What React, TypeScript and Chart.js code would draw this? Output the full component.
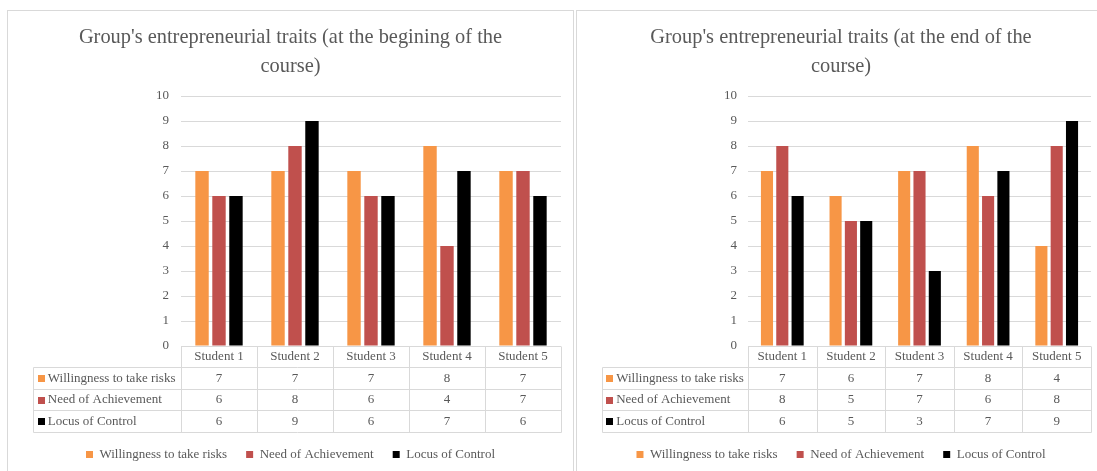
import React, { useEffect, useRef } from 'react';
import { Chart, registerables } from 'chart.js';

Chart.register(...registerables);

// ---------- data ----------
const categories = ['Student 1', 'Student 2', 'Student 3', 'Student 4', 'Student 5'];
const seriesNames = ['Willingness to take risks', 'Need of Achievement', 'Locus of Control'];

const beginRisk = [7, 7, 7, 8, 7];
const beginAchievement = [6, 8, 6, 4, 7];
const beginLocus = [6, 9, 6, 7, 6];

const endRisk = [7, 6, 7, 8, 4];
const endAchievement = [8, 5, 7, 6, 8];
const endLocus = [6, 5, 3, 7, 9];

const yMin = 0;
const yMax = 10;
const yStep = 1;

const titleBegin = ["Group's entrepreneurial traits (at the begining of the", 'course)'];
const titleEnd = ["Group's entrepreneurial traits (at the end of the", 'course)'];

// ---------- styles ----------
const seriesColors = ['#F79646', '#C0504D', '#000000'];
const FONT = "'Liberation Serif', 'Times New Roman', serif";
const TEXT = '#595959';
const LINE = '#d9d9d9';

const dataTablePlugin = {
  id: 'dataTable',
  afterDraw(chart: any, _args: any, opts: any) {
    const { ctx, chartArea } = chart;
    const xs = chart.scales.x;
    const labels: string[] = chart.data.labels;
    const n = labels.length;
    const left = chartArea.left;
    const right = chartArea.right;
    const top = chartArea.bottom;
    const colW = (right - left) / n;
    const headerH = opts.headerHeight;
    const rowH = opts.rowHeight;
    const rows = chart.data.datasets.length;
    const bottom = top + headerH + rows * rowH;
    const tl = opts.tableLeft;
    const snap = (v: number) => Math.round(v) + 0.5;

    ctx.save();
    ctx.strokeStyle = LINE;
    ctx.lineWidth = 1;
    ctx.beginPath();
    for (let i = 0; i <= n; i++) {
      const x = snap(left + i * colW);
      ctx.moveTo(x, snap(top));
      ctx.lineTo(x, snap(bottom));
    }
    ctx.moveTo(snap(tl), snap(top + headerH));
    ctx.lineTo(snap(tl), snap(bottom));
    for (let r = 0; r <= rows; r++) {
      const y = snap(top + headerH + r * rowH);
      ctx.moveTo(snap(tl), y);
      ctx.lineTo(snap(right), y);
    }
    ctx.stroke();

    ctx.font = `13px ${FONT}`;
    ctx.textBaseline = 'middle';
    ctx.textAlign = 'center';
    ctx.fillStyle = TEXT;
    labels.forEach((lab, i) => {
      ctx.fillText(lab, xs.getPixelForValue(i), top + headerH / 2 + 0.5);
    });
    chart.data.datasets.forEach((ds: any, r: number) => {
      const cy = top + headerH + rowH * (r + 0.5) + 0.5;
      ctx.fillStyle = ds.backgroundColor;
      ctx.fillRect(Math.round(tl + 4.5), Math.round(cy - 3.5), 7, 7);
      ctx.fillStyle = TEXT;
      ctx.textAlign = 'left';
      ctx.fillText(ds.label, tl + 14.5, cy);
      ctx.textAlign = 'center';
      ds.data.forEach((v: number, i: number) => {
        ctx.fillText(String(v), xs.getPixelForValue(i), cy);
      });
    });
    ctx.restore();
  },
};

type PanelProps = {
  left: number;
  width: number;
  title: string[];
  series: number[][];
  axisWidth: number;
  rightGap: number;
  tableLeft: number;
  tickPad: number;
};

function Panel({ left, width, title, series, axisWidth, rightGap, tableLeft, tickPad }: PanelProps) {
  const ref = useRef<HTMLCanvasElement>(null);
  const height = 460;

  useEffect(() => {
    if (!ref.current) return;
    const chart = new Chart(ref.current, {
      type: 'bar',
      data: {
        labels: categories,
        datasets: seriesNames.map((name, i) => ({
          label: name,
          data: series[i],
          backgroundColor: seriesColors[i],
          borderWidth: 0,
          categoryPercentage: 0.67,
          barPercentage: 0.79,
        })),
      },
      options: {
        responsive: false,
        animation: false,
        layout: { padding: 0 },
        plugins: {
          title: {
            display: true,
            text: title,
            color: TEXT,
            font: { family: FONT, size: 20.4, weight: 'normal', lineHeight: 29 / 20.4 },
            padding: { top: 12.5, bottom: 14.5 },
          },
          legend: {
            position: 'bottom',
            labels: {
              boxWidth: 7,
              boxHeight: 7,
              padding: 19,
              color: TEXT,
              font: { family: FONT, size: 13 },
            },
          },
          tooltip: { enabled: false },
          // @ts-ignore
          dataTable: { headerHeight: 21, rowHeight: 21.7, tableLeft },
        },
        scales: {
          x: {
            grid: { display: false },
            ticks: { display: false },
            border: { display: false },
            afterFit: (s: any) => {
              s.height = 83;
            },
          },
          y: {
            min: yMin,
            max: yMax,
            ticks: { stepSize: yStep, padding: tickPad, color: TEXT, font: { family: FONT, size: 13 } },
            grid: { color: LINE, drawTicks: false },
            border: { display: false },
            afterFit: (s: any) => {
              s.width = axisWidth;
            },
          },
          gap: {
            position: 'right',
            display: true,
            grid: { display: false },
            ticks: { display: false },
            border: { display: false },
            afterFit: (s: any) => {
              s.width = rightGap;
            },
          },
        },
      } as any,
      plugins: [dataTablePlugin],
    });
    return () => chart.destroy();
  }, []);

  return (
    <div
      style={{
        position: 'absolute',
        left,
        top: 10,
        width,
        height: 480,
        border: `1px solid ${LINE}`,
        background: '#fff',
      }}
    >
      <canvas ref={ref} width={width} height={height} style={{ display: 'block', width, height }} />
    </div>
  );
}

export default function App() {
  return (
    <div
      style={{
        position: 'absolute',
        left: 0,
        top: 0,
        width: 1097,
        height: 471,
        overflow: 'hidden',
        background: '#fff',
      }}
    >
      <Panel
        left={7}
        width={565}
        title={titleBegin}
        series={[beginRisk, beginAchievement, beginLocus]}
        axisWidth={173}
        rightGap={12}
        tableLeft={25.3}
        tickPad={12}
      />
      <Panel
        left={576}
        width={528}
        title={titleEnd}
        series={[endRisk, endAchievement, endLocus]}
        axisWidth={171}
        rightGap={14}
        tableLeft={24.7}
        tickPad={11}
      />
    </div>
  );
}
